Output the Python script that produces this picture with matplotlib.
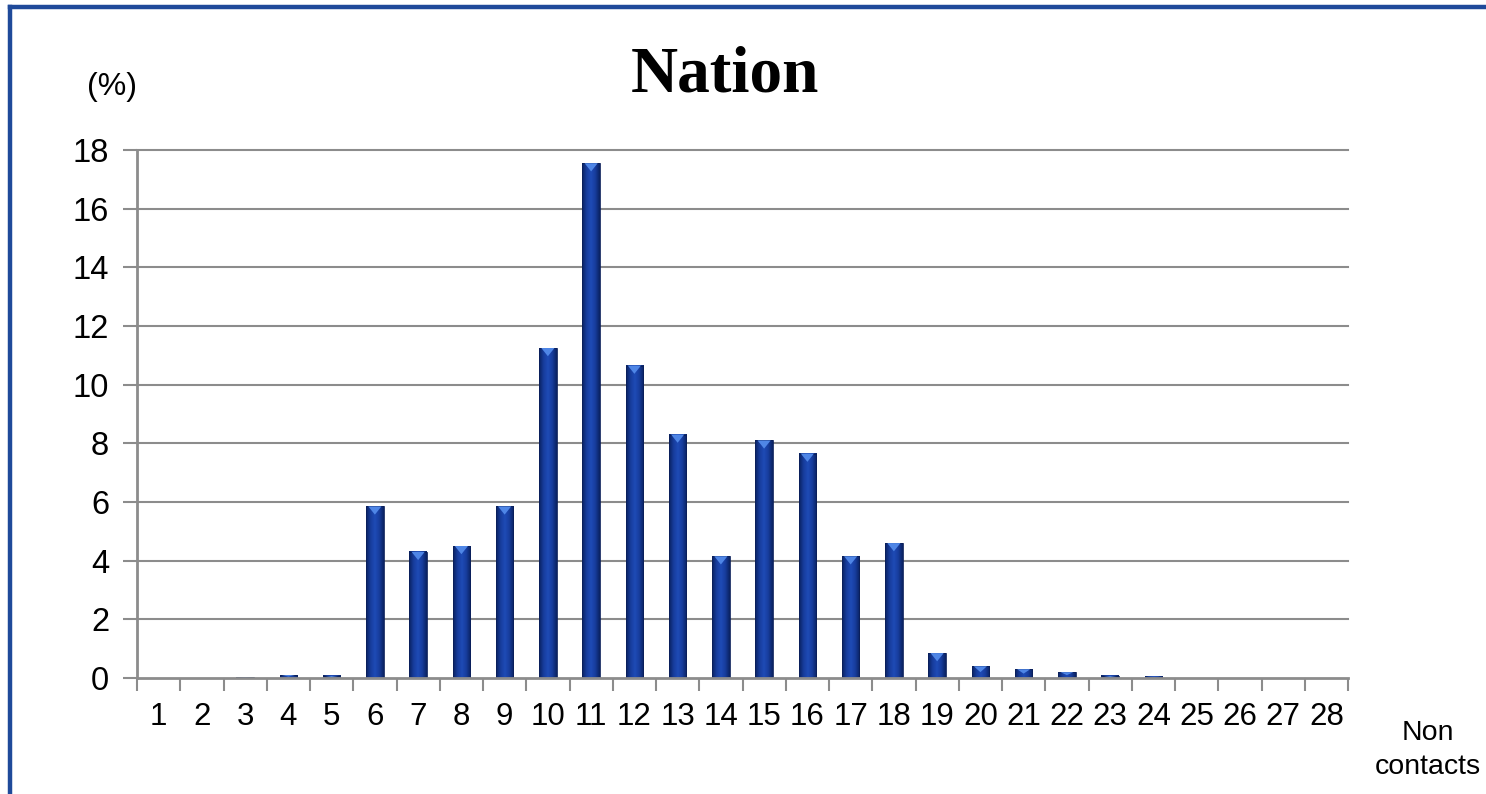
import numpy as np
import matplotlib.pyplot as plt
from matplotlib.colors import LinearSegmentedColormap
from matplotlib.lines import Line2D

# share (%) of each number of contacts
categories = list(range(1, 29))
share = [0, 0, 0.03, 0.1, 0.07, 5.85, 4.3, 4.5, 5.85, 11.25,
         17.55, 10.65, 8.3, 4.15, 8.1, 7.65, 4.15, 4.6, 0.85, 0.4,
         0.3, 0.2, 0.07, 0.04, 0, 0, 0, 0]
yticks = list(range(0, 19, 2))

grid_col = '#8c8c8c'
bar_w = 0.4

fig = plt.figure(figsize=(14.86, 7.94), dpi=100)
ax = fig.add_axes([137 / 1486, 1 - 678 / 794, (1348 - 137) / 1486, (678 - 150) / 794])

# shaded bars: dark edges, brighter centre
cmap = LinearSegmentedColormap.from_list('bar', ['#0a2260', '#173c9c', '#1e4bb6', '#173c9c', '#0a2260'])
grad = np.linspace(0, 1, 64).reshape(1, -1)
for x, v in zip(categories, share):
    if v <= 0:
        continue
    ax.imshow(grad, extent=[x - bar_w / 2, x + bar_w / 2, 0, v], aspect='auto',
              cmap=cmap, interpolation='bilinear', zorder=3)
    ax.add_patch(plt.Rectangle((x - bar_w / 2, 0), bar_w, v, fill=False,
                               ec='#0a1f5a', lw=0.6, zorder=4))
    th = min(0.28, v * 0.5)
    ax.fill([x - bar_w * 0.38, x + bar_w * 0.38, x], [v, v, v - th],
            color='#4f86e6', lw=0, zorder=5)

ax.set_xlim(0.5, 28.5)
ax.set_ylim(0, 18)

for y in yticks[1:]:
    ax.axhline(y, color=grid_col, lw=1.5, zorder=1, clip_on=False)

for s in ['top', 'right']:
    ax.spines[s].set_visible(False)
for s in ['left', 'bottom']:
    ax.spines[s].set_color(grid_col)
    ax.spines[s].set_linewidth(2)
    ax.spines[s].set_zorder(6)

ax.set_yticks(yticks)
ax.set_yticklabels([str(t) for t in yticks], fontsize=23.5, family='Liberation Sans')
ax.tick_params(axis='y', length=10, width=1.5, color=grid_col, pad=10)

ax.set_xticks(categories)
ax.set_xticklabels([str(c) for c in categories], fontsize=22.5, family='Liberation Sans')
ax.set_xticks(np.arange(0.5, 29, 1), minor=True)
ax.tick_params(axis='x', which='major', length=0, pad=17)
ax.tick_params(axis='x', which='minor', length=9, width=1.5, color=grid_col)

fig.text(725 / 1486, 1 - 76 / 794, 'Nation', fontsize=47, fontweight='bold',
         family='Liberation Serif', ha='center', va='center')
fig.text(112 / 1486, 1 - 87 / 794, '(%)', fontsize=23, family='Liberation Sans',
         ha='center', va='center')
fig.text(1428 / 1486, 1 - 750 / 794, 'Non\ncontacts', fontsize=20.5, family='Liberation Sans',
         ha='center', va='center', linespacing=1.35)

# frame edges along left and top
frame_col = '#1f4a9a'
fig.add_artist(Line2D([10 / 1486, 10 / 1486], [0, 1 - 6.5 / 794], transform=fig.transFigure,
                      color=frame_col, lw=3.2))
fig.add_artist(Line2D([10 / 1486, 1], [1 - 6.5 / 794, 1 - 6.5 / 794], transform=fig.transFigure,
                      color=frame_col, lw=3.2))

fig.savefig('out.png', dpi=100)
